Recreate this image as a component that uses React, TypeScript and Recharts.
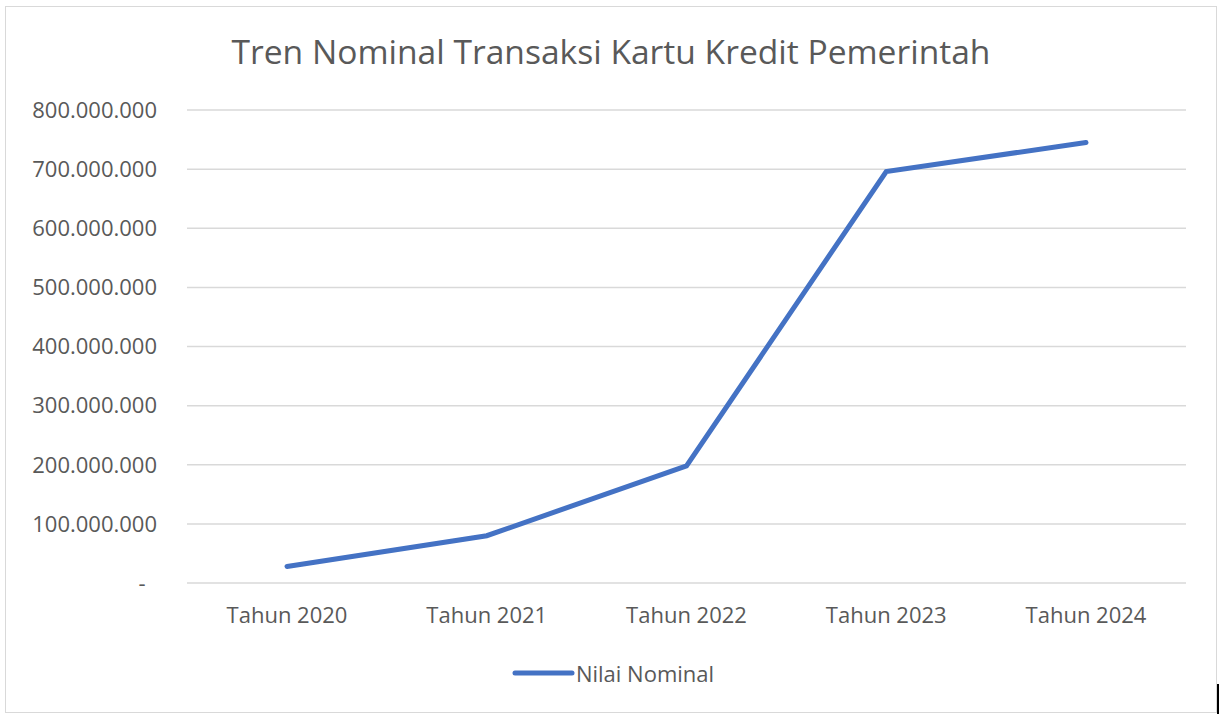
import React from 'react';
import { LineChart, Line, XAxis, YAxis, CartesianGrid, Legend } from 'recharts';

const categories = ['Tahun 2020', 'Tahun 2021', 'Tahun 2022', 'Tahun 2023', 'Tahun 2024'];
const nilaiNominal = [28000000, 80000000, 198000000, 696000000, 745000000];
const yTicks = [0, 100000000, 200000000, 300000000, 400000000, 500000000, 600000000, 700000000, 800000000];
const seriesName = 'Nilai Nominal';
const title = 'Tren Nominal Transaksi Kartu Kredit Pemerintah';

const data = categories.map((c, i) => ({ name: c, value: nilaiNominal[i] }));

const FONT = '"Open Sans", sans-serif';
const TEXT = '#595959';
const BLUE = '#4472C4';

const fmt = (v: number) => {
  if (v === 0) return '-\u00a0\u00a0';
  return Math.round(v).toString().replace(/\B(?=(\d{3})+(?!\d))/g, '.');
};

const LegendContent = (props: any) => {
  const p = (props.payload || [])[0];
  if (!p) return null;
  return (
    <div style={{ display: 'flex', justifyContent: 'center', alignItems: 'center', fontFamily: FONT, fontSize: 22, color: TEXT, height: 30, paddingLeft: 34 }}>
      <svg width={63} height={10} style={{ marginRight: 1 }}>
        <line x1={3} y1={5} x2={60} y2={5} stroke={p.color} strokeWidth={5} strokeLinecap="round" />
      </svg>
      <span>{p.value}</span>
    </div>
  );
};

export default function App() {
  return (
    <div style={{ position: 'absolute', left: 5, top: 6, width: 1210, height: 705, border: '1.5px solid #d9d9d9', background: '#fff' }}>
      <div style={{ position: 'absolute', left: 0, top: 21, width: '100%', textAlign: 'center', fontFamily: FONT, fontSize: 33.6, color: TEXT, zIndex: 2 }}>
        {title}
      </div>
      <LineChart width={1210} height={705} data={data} margin={{ top: 103, right: 30, bottom: 24, left: 0 }}>
        <CartesianGrid vertical={false} stroke="#d9d9d9" strokeWidth={1.5} />
        <XAxis dataKey="name" axisLine={false} tickLine={false} tickSize={0} tickMargin={24} height={75}
          tick={{ fontFamily: FONT, fontSize: 22, fill: TEXT }} padding={{ left: 100, right: 100 }} interval={0} />
        <YAxis domain={[0, 800000000]} ticks={yTicks} tickFormatter={fmt} axisLine={false} tickLine={false}
          tickSize={0} tickMargin={30} width={181} interval={0}
          tick={{ fontFamily: FONT, fontSize: 22, fill: TEXT }} />
        <Legend verticalAlign="bottom" content={<LegendContent />} />
        <Line type="linear" dataKey="value" name={seriesName} stroke={BLUE} strokeWidth={5} strokeLinecap="round" dot={false} isAnimationActive={false} />
      </LineChart>
      <div style={{ position: 'absolute', left: 1211, top: 677, width: 1.5, height: 30, background: '#000' }} />
    </div>
  );
}
